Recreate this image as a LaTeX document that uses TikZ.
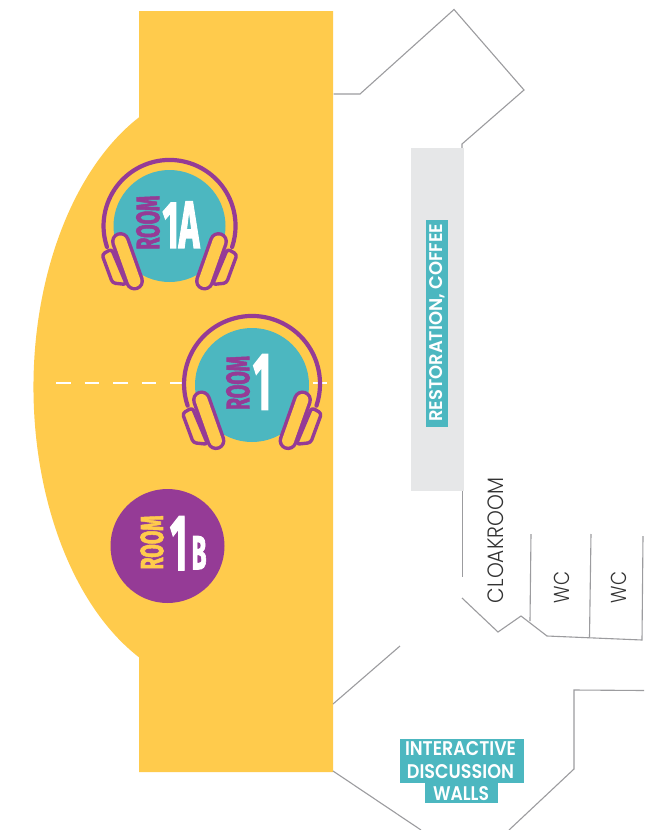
\documentclass[tikz,border=0pt]{standalone}
\usepackage{fontspec}
\usepackage{graphicx}
\setmainfont{Liberation Sans}
\newfontfamily\headfont[FakeBold=2.4]{Fira Sans Bold}
\newfontfamily\lightfont{Poppins Light}
\newfontfamily\tagfont{Poppins SemiBold}
\definecolor{roomyellow}{HTML}{FFCB4C}
\definecolor{roomteal}{HTML}{4CB7C0}
\definecolor{roompurple}{HTML}{953B96}
\definecolor{barGray}{HTML}{E6E7E8}
\definecolor{wallgray}{HTML}{9C9C9F}
\newcommand{\fitbox}[3]{\resizebox{#1pt}{#2pt}{\headfont #3}}
\newcommand{\fitlight}[3]{\resizebox{#1pt}{#2pt}{\lightfont #3}}
\newcommand{\fittag}[3]{\resizebox{#1pt}{#2pt}{\tagfont #3}}
\tikzset{
  x=1pt,y=-1pt,
  wall/.style={draw=wallgray,line width=1.1pt},
  fitlabel/.style={inner sep=0pt,outer sep=0pt},
  lightlabel/.style={inner sep=0pt,outer sep=0pt,text=black!80,rotate=90},
  headset/.pic={
    \draw[roompurple,line width=4.2pt,line cap=round]
      (-62.5,21) arc[start angle=198.6,end angle=-18.6,radius=66pt];
    \foreach \s in {-1,1}{
      \draw[roompurple,line width=3.4pt,line join=round,fill=roomyellow,rounded corners=3pt]
        (\s*58,23) -- (\s*67.5,28.5) -- (\s*57,57) -- (\s*43,58.5) -- cycle;
      \draw[roompurple,line width=19pt,line cap=round] (\s*49,15.5) -- (\s*35,55);
      \draw[roomyellow,line width=12pt,line cap=round] (\s*49,15.5) -- (\s*35,55);
    }
  }
}
\begin{document}
\begin{tikzpicture}
\useasboundingbox (0,0) rectangle (661,830);
\fill[white] (0,0) rectangle (661,830);
% yellow hall
\fill[roomyellow] (139,11) -- (333,11) -- (333,772) -- (139,772) -- (139,657.3)
  arc[start angle=244.16,end angle=115.84,x radius=187pt,y radius=300pt] -- cycle;
% walls
\draw[wall] (333.5,94) -- (360,94) -- (454,9.5) -- (524,90) -- (462,144) -- (462,148);
\draw[wall] (462.5,491) -- (462.5,577);
\draw[wall] (462,598) -- (498,632) -- (521,616) -- (547,636) -- (642,640) -- (643,536);
\draw[wall] (531,534) -- (530,621);
\draw[wall] (591,534) -- (589.5,637);
\draw[wall] (333,704) -- (400,646);
\draw[wall] (333,771) -- (421,830);
\draw[wall] (509,830) -- (574,769) -- (574,690) -- (644,690.5);
% dashed axis
\draw[white,line width=2.6pt,dash pattern=on 14.5pt off 14pt] (56,383) -- (328,383);
% service bar
\fill[barGray] (411,148) rectangle (464,491);
% room circles
\fill[roomteal] (169.5,226) circle[radius=56pt];
\fill[roomteal] (252,385) circle[radius=57pt];
\fill[roompurple] (167.5,546) circle[radius=57pt];
\pic at (169.5,226) {headset};
\pic[scale=1.03] at (252,384) {headset};
% room labels
\node[fitlabel,rotate=90,text=roompurple] (r1aword) at (148,222.7) {\fitbox{54}{23}{ROOM}};
\node[fitlabel,text=white] (r1anum) at (181,224.7) {\fitbox{37}{46}{1A}};
\node[fitlabel,rotate=90,text=roompurple] (r1word) at (238,383) {\fitbox{54}{23}{ROOM}};
\node[fitlabel,text=white] (r1num) at (262,382) {\fitbox{18}{55}{1}};
\node[fitlabel,rotate=90,text=roomyellow] (r1bword) at (152,542.5) {\fitbox{54}{22.5}{ROOM}};
\node[fitlabel,text=white] (r1bnum) at (178.7,543.3) {\fitbox{17.3}{53.3}{1}};
\node[fitlabel,text=white] (r1bletter) at (199,552.7) {\fitbox{15}{33}{B}};
% service labels
\fill[roomteal] (426,220) rectangle (448,427);
\node[fitlabel,anchor=center,rotate=90,text=white] (resto) at (437.7,322.7) {\fittag{198}{13}{RESTORATION, COFFEE}};
\node[lightlabel] (cloak) at (496,540.5) {\fitlight{125}{15.7}{CLOAKROOM}};
\node[lightlabel] (wc1) at (561.5,587.5) {\fitlight{31.5}{15.3}{WC}};
\node[lightlabel] (wc2) at (619,587.5) {\fitlight{31.5}{15.3}{WC}};
% discussion walls tag
\fill[roomteal] (400,739) rectangle (524,783);
\fill[roomteal] (425,783) rectangle (498,803);
\node[fitlabel,text=white] (int) at (460.5,749) {\fittag{111}{14}{INTERACTIVE}};
\node[fitlabel,text=white] (dis) at (460.5,772) {\fittag{107}{14}{DISCUSSION}};
\node[fitlabel,text=white] (wal) at (461,794) {\fittag{56}{14}{WALLS}};
\end{tikzpicture}
\end{document}
